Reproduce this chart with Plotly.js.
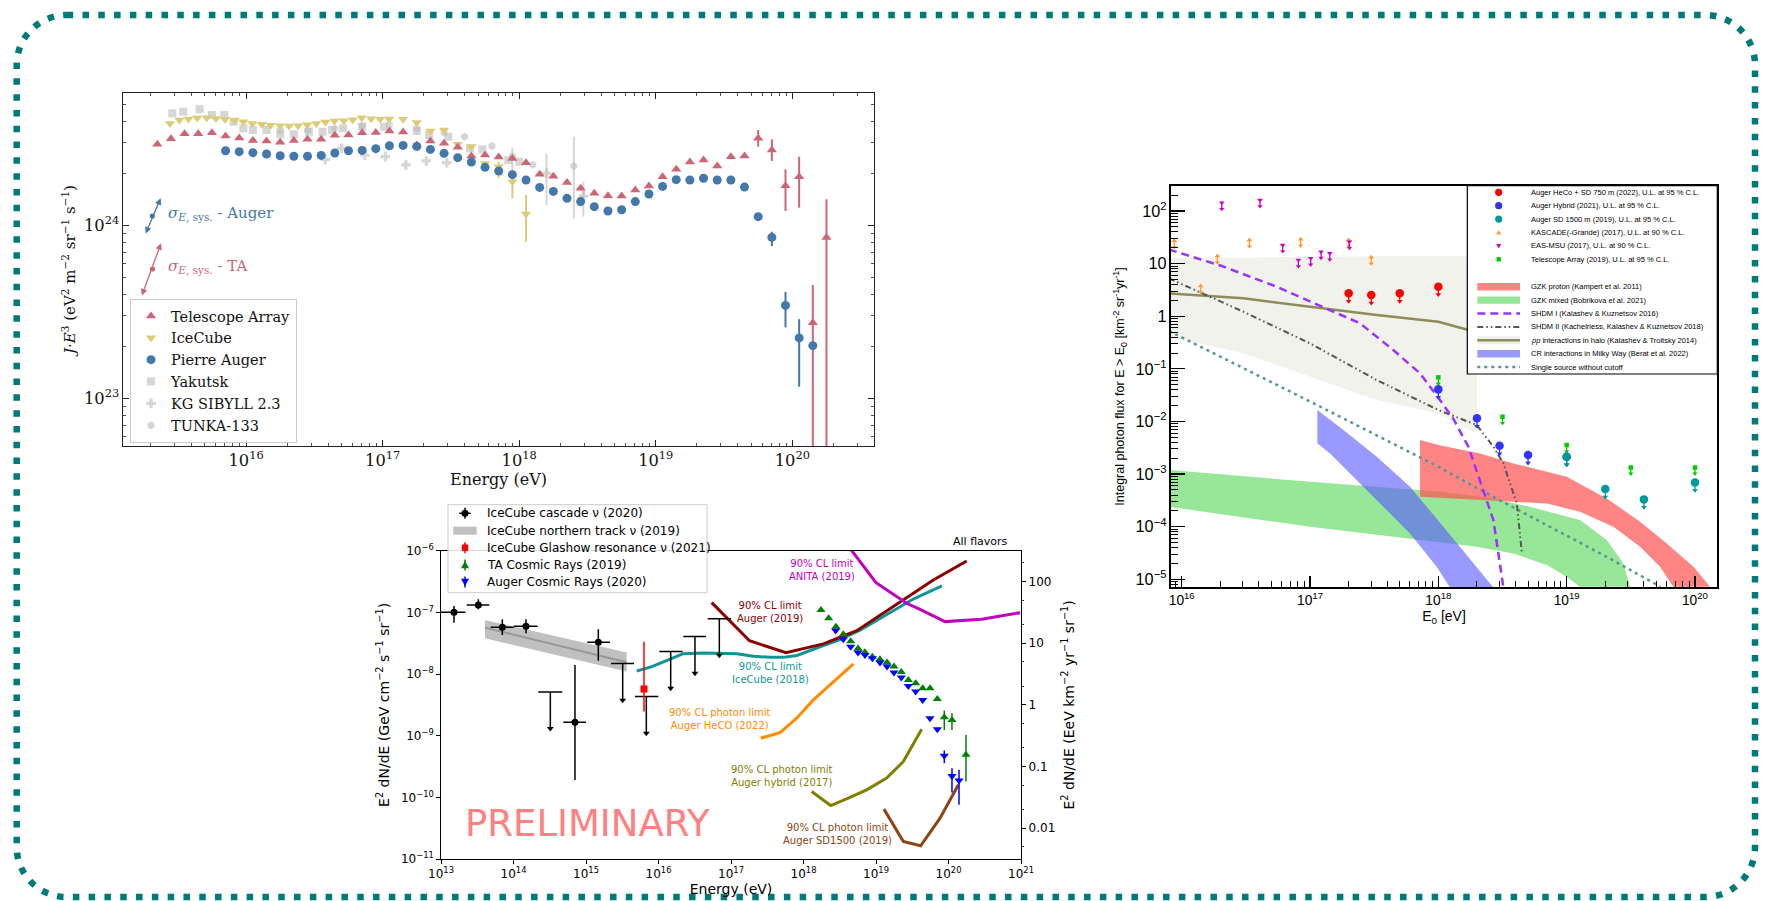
<!DOCTYPE html>
<html>
<head>
<meta charset="utf-8">
<script src="https://cdn.plot.ly/plotly-3.0.1.min.js"></script>
<style>
html,body{margin:0;padding:0;background:#ffffff;}
#fig{width:1768px;height:901px;}
</style>
</head>
<body>
<div id="fig"></div>
<script>
// ================= Panel A : cosmic-ray spectrum (log10 E [eV], log10 J*E^3) =================
const taLogE = [15.35,15.45,15.55,15.65,15.75,15.85,15.95,16.05,16.15,16.25,16.35,16.45,16.55,16.65,16.75,16.85,16.95,17.05,17.15,17.25,17.35,17.45,17.55,17.65,17.75,17.85,17.95,18.05,18.15,18.25,18.35,18.45,18.55,18.65,18.75,18.85,18.95,19.05,19.15,19.25,19.35,19.45,19.55,19.65,19.75,19.85,19.95,20.05,20.15,20.25];
const taLogJ = [24.468,24.501,24.530,24.530,24.535,24.516,24.505,24.491,24.487,24.480,24.491,24.497,24.497,24.520,24.522,24.535,24.537,24.545,24.539,24.464,24.487,24.474,24.451,24.401,24.406,24.395,24.387,24.362,24.295,24.283,24.248,24.214,24.185,24.171,24.169,24.204,24.227,24.281,24.324,24.366,24.377,24.343,24.397,24.401,24.503,24.435,24.229,24.281,23.437,23.930];
const taErrLogE = [19.75,19.85,19.95,20.05,20.15,20.25];
const taErrLogHi = [24.551,24.497,24.324,24.397,23.655,24.150];
const taErrLogLo = [24.455,24.372,24.083,24.102,22.5,22.5];

const icLogE = [15.443,15.512,15.578,15.643,15.712,15.780,15.846,15.915,15.980,16.046,16.115,16.181,16.249,16.315,16.381,16.447,16.515,16.581,16.647,16.716,16.781,16.847,16.916,16.982,17.048,17.15,17.25,17.35,17.45,17.55,17.65,17.75,17.85,17.95,18.05];
const icLogJ = [24.589,24.609,24.614,24.620,24.622,24.618,24.613,24.607,24.599,24.589,24.584,24.578,24.576,24.574,24.576,24.582,24.589,24.597,24.603,24.605,24.611,24.622,24.616,24.613,24.614,24.613,24.595,24.545,24.551,24.468,24.455,24.358,24.339,24.252,24.065];
const icErrLogE = [17.85,17.95,18.05];
const icErrLogHi = [24.368,24.320,24.175];
const icErrLogLo = [24.272,24.156,23.905];

const augLogE = [15.85,15.95,16.05,16.15,16.25,16.35,16.45,16.55,16.65,16.75,16.85,16.95,17.05,17.15,17.25,17.35,17.45,17.55,17.65,17.75,17.85,17.95,18.05,18.15,18.25,18.35,18.45,18.55,18.65,18.75,18.85,18.95,19.05,19.15,19.25,19.35,19.45,19.55,19.65,19.75,19.85,19.95,20.05,20.15];
const augLogJ = [24.431,24.426,24.420,24.412,24.402,24.399,24.399,24.404,24.418,24.431,24.433,24.443,24.460,24.462,24.456,24.439,24.416,24.391,24.366,24.335,24.314,24.293,24.262,24.219,24.196,24.156,24.137,24.108,24.083,24.090,24.137,24.181,24.225,24.264,24.262,24.272,24.262,24.262,24.221,24.050,23.930,23.537,23.349,23.304];
const augErrLogE = [19.85,19.95,20.05];
const augErrLogHi = [23.963,23.614,23.457];
const augErrLogLo = [23.880,23.410,23.067];

const yakLogE = [15.46,15.54,15.66,15.75,15.84,15.91,15.98,16.05,16.15,16.25,16.35,16.46,16.56,16.63,16.71,16.85,17.01,17.25,17.34,17.48,17.64,17.73,17.92,18.0];
const yakLogJ = [24.647,24.657,24.672,24.638,24.638,24.599,24.561,24.551,24.551,24.526,24.526,24.541,24.541,24.551,24.561,24.570,24.570,24.545,24.522,24.512,24.445,24.439,24.377,24.368];

const kgLogE = [16.58,16.70,16.87,17.02,17.17,17.32,17.47,18.20,18.47];
const kgLogJ = [24.381,24.445,24.406,24.397,24.349,24.372,24.362,24.300,24.169];
const kgErrLogE = [18.20,18.47];
const kgErrLogHi = [24.416,24.252];
const kgErrLogLo = [24.117,24.050];

const tunkaLogE = [16.25,16.45,16.65,16.85,17.05,17.25,17.45,17.60,17.80,17.95,18.10,18.40];
const tunkaLogJ = [24.550,24.550,24.560,24.575,24.580,24.560,24.535,24.512,24.458,24.400,24.350,24.343];
const tunkaErrLogE = [17.95,18.40];
const tunkaErrLogHi = [24.450,24.512];
const tunkaErrLogLo = [24.300,24.040];

// ================= Panel B : neutrino / photon / CR fluxes (log10 E [eV], log10 E^2 dN/dE) =================
const cascLogE   = [13.179,13.515,13.846,14.172,14.848,15.170];
const cascLogElo = [13.000,13.354,13.685,14.007,14.687,15.018];
const cascLogEhi = [13.336,13.666,14.007,14.333,15.000,15.331];
const cascLogF   = [-6.998,-6.880,-7.242,-7.226,-8.781,-7.485];
const cascLogFlo = [-7.167,-6.950,-7.366,-7.338,-9.717,-7.783];
const cascLogFhi = [-6.896,-6.788,-7.112,-7.112,-7.853,-7.274];
const cascUlLogE   = [14.508,15.506,15.832,16.168,16.503,16.839];
const cascUlLogElo = [14.342,15.345,15.676,16.011,16.342,16.679];
const cascUlLogEhi = [14.673,15.662,15.997,16.333,16.655,17.000];
const cascUlLogF   = [-8.290,-7.831,-8.366,-7.636,-7.393,-7.102];

const trackLogE   = [13.607,15.561];
const trackLogMid = [-7.248,-7.809];
const trackLogHi  = [-7.123,-7.653];
const trackLogLo  = [-7.420,-7.961];

const glashowLogE = [15.80];
const glashowLogF = [-8.241];
const glashowLogHi = [-7.475];
const glashowLogLo = [-8.609];

const taCrLogE = [18.241,18.347,18.448,18.549,18.651,18.752,18.848,18.950,19.055,19.152,19.248,19.349,19.446,19.547,19.644,19.745,19.846,19.942,20.048,20.241];
const taCrLogF = [-6.961,-7.096,-7.232,-7.355,-7.469,-7.588,-7.647,-7.718,-7.760,-7.815,-7.880,-7.966,-8.096,-8.149,-8.230,-8.230,-8.404,-8.701,-8.744,-9.311];
const taCrErrLogE = [19.942,20.048,20.241];
const taCrErrLogHi = [-8.593,-8.636,-8.987];
const taCrErrLogLo = [-8.906,-8.906,-9.744];

const augCrLogE = [18.444,18.549,18.651,18.752,18.848,18.950,19.055,19.152,19.248,19.349,19.446,19.547,19.644,19.745,19.846,19.942,20.048,20.145];
const augCrLogF = [-7.296,-7.436,-7.556,-7.653,-7.691,-7.744,-7.815,-7.880,-7.977,-8.058,-8.193,-8.285,-8.420,-8.717,-8.895,-9.327,-9.652,-9.728];
const augCrErrLogE = [19.942,20.048,20.145];
const augCrErrLogHi = [-9.241,-9.527,-9.554];
const augCrErrLogLo = [-9.446,-9.922,-10.122];

const ic18LogE = [15.70,15.91,16.16,16.34,16.62,16.85,17.08,17.31,17.54,17.72,17.91,18.18,18.50,18.78,19.15,19.52,19.91];
const ic18LogF = [-7.95,-7.88,-7.76,-7.67,-7.66,-7.66,-7.67,-7.71,-7.73,-7.73,-7.70,-7.58,-7.44,-7.29,-7.04,-6.78,-6.57];
const aug19LogE = [16.734,17.255,17.759,18.274,18.734,19.239,19.791,20.251];
const aug19LogF = [-6.843,-7.461,-7.653,-7.512,-7.297,-6.908,-6.475,-6.167];
const anitaLogE = [18.55,19.00,19.423,19.607,19.952,20.458,20.986];
const anitaLogF = [-5.82,-6.518,-6.853,-6.950,-7.150,-7.112,-7.005];
const hecoLogE = [17.410,17.676,17.906,18.136,18.366,18.688];
const hecoLogF = [-9.041,-8.950,-8.717,-8.420,-8.177,-7.837];
const hybLogE = [18.113,18.375,18.618,18.871,19.147,19.377,19.630];
const hybLogF = [-9.906,-10.133,-10.013,-9.878,-9.689,-9.420,-8.895];
const sdLogE = [19.110,19.377,19.616,19.883,20.136];
const sdLogF = [-10.191,-10.716,-10.786,-10.337,-9.797];

const rightAxisTicks = [0.01,0.1,1,10,100];
const rightAxisLabels = ['0.01','0.1','1','10','100'];

// ================= Panel C : integral photon flux (log10 E0 [eV], log10 flux) =================
const heCoLogE = [17.301,17.477,17.699,18.000];
const heCoLogF = [0.435,0.403,0.435,0.561];
const hybPhLogE = [18.000,18.301,18.477,18.699,19.000];
const hybPhLogF = [-1.390,-1.941,-2.462,-2.639,-2.671];
const sd1500LogE = [19.000,19.301,19.602,20.000];
const sd1500LogF = [-2.671,-3.285,-3.481,-3.158];
const kascLogE = [15.942,16.148,16.277,16.527,16.927,17.301,17.477];
const kascLogF = [1.435,0.574,1.144,1.449,1.462,1.449,1.120];
const msuLogE = [16.312,16.610,16.787,16.909,17.005,17.086,17.154,17.307];
const msuLogF = [2.158,2.209,1.354,1.068,1.100,1.227,1.196,1.416];
const taPhLogE = [18.0,18.5,19.0,19.5,20.0];
const taPhLogF = [-1.162,-1.911,-2.449,-2.873,-2.873];

const gzkpUpLogE = [17.857,18.000,18.325,18.585,19.000,19.312,19.572,19.780,19.988,20.118];
const gzkpUpLogF = [-2.354,-2.449,-2.607,-2.797,-3.051,-3.462,-3.906,-4.318,-4.762,-5.143];
const gzkpLoLogE = [17.857,18.000,18.325,18.585,18.845,19.104,19.364,19.572,19.728,19.832];
const gzkpLoLogF = [-3.432,-3.440,-3.494,-3.527,-3.557,-3.717,-4.002,-4.382,-4.762,-5.143];

const gzkmUpLogE = [15.90,17.00,18.00,18.40,18.714,19.104,19.312,19.442,19.494];
const gzkmUpLogF = [-2.92,-3.146,-3.33,-3.45,-3.622,-3.875,-4.255,-4.698,-5.143];
const gzkmLoLogE = [15.90,17.00,18.30,18.585,18.845,19.000,19.104];
const gzkmLoLogF = [-3.622,-4.002,-4.382,-4.509,-4.730,-4.952,-5.143];

const crUpLogE = [17.057,17.260,17.520,17.779,18.039,18.234,18.429];
const crUpLogF = [-1.783,-2.163,-2.671,-3.241,-4.002,-4.572,-5.155];
const crLoLogE = [17.057,17.156,17.520,17.779,17.987,18.091];
const crLoLogF = [-2.416,-2.607,-3.494,-4.128,-4.762,-5.155];

const ppUpLogE = [15.90,16.48,17.00,17.52,18.00,18.299];
const ppUpLogF = [1.10,1.12,1.13,1.14,1.14,1.14];
const ppLoLogE = [15.90,16.48,17.00,17.52,18.00,18.247,18.299];
const ppLoLogF = [-0.390,-0.705,-1.150,-1.593,-1.846,-2.163,-2.226];
const ppLineLogE = [15.90,16.48,17.00,17.52,18.00,18.234];
const ppLineLogF = [0.435,0.340,0.181,0.023,-0.104,-0.262];

const shdm1LogE = [15.90,16.312,16.740,17.130,17.390,17.649,17.857,18.000,18.117,18.234,18.325,18.429,18.506];
const shdm1LogF = [1.27,0.954,0.561,0.150,-0.135,-0.643,-1.086,-1.55,-1.95,-2.48,-3.114,-3.875,-5.143];
const shdm2LogE = [15.90,16.48,17.00,17.52,18.00,18.299,18.429,18.507,18.611,18.637,18.650];
const shdm2LogF = [0.72,0.086,-0.516,-1.213,-1.783,-2.068,-2.48,-2.797,-3.557,-4.255,-4.477];
const ssLogE = [15.90,17.00,18.00,18.325,18.845,19.31,19.73];
const ssLogF = [-0.28,-1.62,-2.86,-3.30,-3.97,-4.57,-5.14];

// ================= helpers =================
const P = v => Math.pow(10, v);
const lin = a => a.map(P);
const W = 1768, H = 901;
const fx = x => x / W;
const fy = y => 1 - y / H;

function errFor(logX, logY, eX, eHi, eLo) {
  const plus = [], minus = [];
  logX.forEach((x, i) => {
    const k = eX.findIndex(v => Math.abs(v - x) < 1e-6);
    if (k < 0) { plus.push(0); minus.push(0); }
    else { plus.push(P(eHi[k]) - P(logY[i])); minus.push(P(logY[i]) - P(eLo[k])); }
  });
  return {plus, minus};
}
function errY(logX, logY, eX, eHi, eLo, color, th) {
  const e = errFor(logX, logY, eX, eHi, eLo);
  return {type:'data', symmetric:false, array:e.plus, arrayminus:e.minus, color:color, thickness:th, width:0};
}
function band(upE, upF, loE, loF) {
  return {x: lin(upE.concat(loE.slice().reverse())), y: lin(upF.concat(loF.slice().reverse()))};
}

const cTA = '#CC6677', cIC = '#DDCC77', cAug = '#4477AA', cGrey = 'rgba(187,187,187,0.6)';
const serif = 'DejaVu Serif', sans = 'DejaVu Sans', helv = 'Liberation Sans';

const traces = [];

// ---------- Panel A traces ----------
function seriesA(name, logE, logJ, err, symbol, size, color, rank) {
  return {type:'scatter', mode:'markers', name:name, x:lin(logE), y:lin(logJ), xaxis:'x', yaxis:'y',
    legend:'legend', legendrank:rank, marker:{symbol:symbol, size:size, color:color, line:{width:0}},
    error_y: err, cliponaxis:true, hoverinfo:'skip'};
}
traces.push(seriesA('Yakutsk', yakLogE, yakLogJ, undefined, 'square', 8, cGrey, 4));
traces.push(seriesA('KG SIBYLL 2.3', kgLogE, kgLogJ, errY(kgLogE, kgLogJ, kgErrLogE, kgErrLogHi, kgErrLogLo, cGrey, 2), 'cross', 8, cGrey, 5));
traces.push(seriesA('TUNKA-133', tunkaLogE, tunkaLogJ, errY(tunkaLogE, tunkaLogJ, tunkaErrLogE, tunkaErrLogHi, tunkaErrLogLo, cGrey, 2), 'hexagon', 8, cGrey, 6));
traces.push(seriesA('IceCube', icLogE, icLogJ, errY(icLogE, icLogJ, icErrLogE, icErrLogHi, icErrLogLo, cIC, 2), 'triangle-down', 9, cIC, 2));
traces.push(seriesA('Telescope Array', taLogE, taLogJ, errY(taLogE, taLogJ, taErrLogE, taErrLogHi, taErrLogLo, cTA, 2), 'triangle-up', 9, cTA, 1));
traces.push(seriesA('Pierre Auger', augLogE, augLogJ, errY(augLogE, augLogJ, augErrLogE, augErrLogHi, augErrLogLo, cAug, 2), 'circle', 9, cAug, 3));

// ---------- Panel B traces ----------
const cTrack = 'rgba(150,150,150,0.6)';
const tb = band(trackLogE, trackLogHi, trackLogE, trackLogLo);
traces.push({type:'scatter', mode:'lines', name:'IceCube northern track \u03bd (2019)', x:tb.x, y:tb.y, xaxis:'x2', yaxis:'y2', showlegend:false,
  fill:'toself', fillcolor:cTrack, line:{width:0, color:cTrack}, hoverinfo:'skip'});
traces.push({type:'scatter', mode:'lines', x:lin(trackLogE), y:lin(trackLogMid), xaxis:'x2', yaxis:'y2', showlegend:false,
  line:{width:2, color:'rgba(140,140,140,0.8)'}, hoverinfo:'skip'});

function limitLine(logE, logF, color) {
  return {type:'scatter', mode:'lines', x:lin(logE), y:lin(logF), xaxis:'x2', yaxis:'y2', showlegend:false,
    line:{color:color, width:3}, hoverinfo:'skip'};
}
traces.push(limitLine(ic18LogE, ic18LogF, '#0e9696'));
traces.push(limitLine(aug19LogE, aug19LogF, '#8b0000'));
traces.push(limitLine(anitaLogE, anitaLogF, '#bf00bf'));
traces.push(limitLine(hecoLogE, hecoLogF, '#ff8c00'));
traces.push(limitLine(hybLogE, hybLogF, '#808000'));
traces.push(limitLine(sdLogE, sdLogF, '#8b4513'));

traces.push({type:'scatter', mode:'markers', name:'IceCube cascade \u03bd (2020)', x:lin(cascLogE), y:lin(cascLogF), xaxis:'x2', yaxis:'y2', showlegend:false,
  marker:{symbol:'circle', size:7, color:'black'},
  error_x:{type:'data', symmetric:false, array:cascLogEhi.map((v,i)=>P(v)-P(cascLogE[i])), arrayminus:cascLogElo.map((v,i)=>P(cascLogE[i])-P(v)), color:'black', thickness:1.5, width:0},
  error_y:{type:'data', symmetric:false, array:cascLogFhi.map((v,i)=>P(v)-P(cascLogF[i])), arrayminus:cascLogFlo.map((v,i)=>P(cascLogF[i])-P(v)), color:'black', thickness:1.5, width:0},
  hoverinfo:'skip'});
const ulDrop = 0.643;
traces.push({type:'scatter', mode:'markers', x:lin(cascUlLogE), y:lin(cascUlLogF), xaxis:'x2', yaxis:'y2', showlegend:false,
  marker:{size:2, color:'rgba(0,0,0,0)'},
  error_x:{type:'data', symmetric:false, array:cascUlLogEhi.map((v,i)=>P(v)-P(cascUlLogE[i])), arrayminus:cascUlLogElo.map((v,i)=>P(cascUlLogE[i])-P(v)), color:'black', thickness:1.5, width:0},
  error_y:{type:'data', symmetric:false, array:cascUlLogF.map(()=>0), arrayminus:cascUlLogF.map(v=>P(v)-P(v-ulDrop+0.05)), color:'black', thickness:1.5, width:0},
  hoverinfo:'skip'});
traces.push({type:'scatter', mode:'markers', x:lin(cascUlLogE), y:cascUlLogF.map(v=>P(v-ulDrop+0.05)), xaxis:'x2', yaxis:'y2', showlegend:false,
  marker:{symbol:'triangle-down', size:6, color:'black'}, hoverinfo:'skip'});

traces.push({type:'scatter', mode:'markers', name:'IceCube Glashow resonance \u03bd (2021)', x:lin(glashowLogE), y:lin(glashowLogF), xaxis:'x2', yaxis:'y2', showlegend:false,
  marker:{symbol:'square', size:7, color:'#ff0000'},
  error_y:{type:'data', symmetric:false, array:[P(glashowLogHi[0])-P(glashowLogF[0])], arrayminus:[P(glashowLogF[0])-P(glashowLogLo[0])], color:'#ff0000', thickness:1.5, width:0},
  hoverinfo:'skip'});
traces.push({type:'scatter', mode:'markers', name:'TA Cosmic Rays (2019)', x:lin(taCrLogE), y:lin(taCrLogF), xaxis:'x2', yaxis:'y2', showlegend:false,
  marker:{symbol:'triangle-up', size:8, color:'#008000'},
  error_y:errY(taCrLogE, taCrLogF, taCrErrLogE, taCrErrLogHi, taCrErrLogLo, '#008000', 1.5), hoverinfo:'skip'});
traces.push({type:'scatter', mode:'markers', name:'Auger Cosmic Rays (2020)', x:lin(augCrLogE), y:lin(augCrLogF), xaxis:'x2', yaxis:'y2', showlegend:false,
  marker:{symbol:'triangle-down', size:8, color:'#0000ff'},
  error_y:errY(augCrLogE, augCrLogF, augCrErrLogE, augCrErrLogHi, augCrErrLogLo, '#0000ff', 1.5), hoverinfo:'skip'});
traces.push({type:'scatter', mode:'markers', x:[], y:[], xaxis:'x2', yaxis:'y4', showlegend:false, hoverinfo:'skip'});

// ---------- Panel C traces ----------
function bandC(upE, upF, loE, loF, color) {
  const b = band(upE, upF, loE, loF);
  return {type:'scatter', mode:'lines', x:b.x, y:b.y, xaxis:'x3', yaxis:'y3', showlegend:false,
    fill:'toself', fillcolor:color, line:{width:0, color:color}, hoverinfo:'skip'};
}
const cGzkP = 'rgba(255,80,80,0.7)', cGzkM = '#98e698', cCr = 'rgba(90,90,255,0.62)', cPpBand = '#f2f2ec';
traces.push(bandC(ppUpLogE, ppUpLogF, ppLoLogE, ppLoLogF, cPpBand));
traces.push(bandC(gzkmUpLogE, gzkmUpLogF, gzkmLoLogE, gzkmLoLogF, cGzkM));
traces.push(bandC(gzkpUpLogE, gzkpUpLogF, gzkpLoLogE, gzkpLoLogF, cGzkP));
traces.push(bandC(crUpLogE, crUpLogF, crLoLogE, crLoLogF, cCr));
function lineC(logE, logF, color, width, dash) {
  return {type:'scatter', mode:'lines', x:lin(logE), y:lin(logF), xaxis:'x3', yaxis:'y3', showlegend:false,
    line:{color:color, width:width, dash:dash}, hoverinfo:'skip'};
}
traces.push(lineC(ppLineLogE, ppLineLogF, '#8c8c5c', 2.5, 'solid'));
traces.push(lineC(ssLogE, ssLogF, '#5b9494', 2.5, '3px,4px'));
traces.push(lineC(shdm2LogE, shdm2LogF, '#555555', 2, '6px,3px,1.5px,3px,1.5px,3px'));
traces.push(lineC(shdm1LogE, shdm1LogF, '#9933ff', 2.5, '8px,5px'));

function ulC(logE, logF, color, symbol, size, drop, head) {
  const tip = logF.map(v => P(v - drop));
  return [
    {type:'scatter', mode:'markers', x:lin(logE), y:lin(logF), xaxis:'x3', yaxis:'y3', showlegend:false,
      marker:{symbol:symbol, size:size, color:color},
      error_y:{type:'data', symmetric:false, array:logF.map(()=>0), arrayminus:logF.map((v,i)=>P(v)-tip[i]), color:color, thickness:1.3, width:0},
      hoverinfo:'skip'},
    {type:'scatter', mode:'markers', x:lin(logE), y:tip, xaxis:'x3', yaxis:'y3', showlegend:false,
      marker:{symbol:'triangle-down', size:head, color:color}, hoverinfo:'skip'}
  ];
}
traces.push(...ulC(kascLogE, kascLogF, '#ff9933', 'triangle-up', 5, 0.12, 4.5));
traces.push(...ulC(msuLogE, msuLogF, '#cc00cc', 'triangle-down', 5, 0.12, 4.5));
traces.push(...ulC(taPhLogE, taPhLogF, '#00cc00', 'square', 4.5, 0.12, 4.5));
traces.push(...ulC(hybPhLogE, hybPhLogF, '#3333ff', 'circle', 8.5, 0.15, 5));
traces.push(...ulC(sd1500LogE, sd1500LogF, '#009999', 'circle', 8.5, 0.15, 5));
traces.push(...ulC(heCoLogE, heCoLogF, '#ff0000', 'circle', 8.5, 0.15, 5));

// ================= decorations =================
const shapes = [];
const annotations = [];

// page border (rounded dashed frame)
(function(){
  const xl = fx(16.7), xr = fx(1755), yt = fy(15), yb = fy(897);
  const rx = 50 / W, ry = 50 / H, k = 0.5523;
  const p = [
    `M${xl+rx},${yt}`, `L${xr-rx},${yt}`,
    `C${xr-rx+k*rx},${yt} ${xr},${yt-ry+k*ry} ${xr},${yt-ry}`,
    `L${xr},${yb+ry}`,
    `C${xr},${yb+ry-k*ry} ${xr-rx+k*rx},${yb} ${xr-rx},${yb}`,
    `L${xl+rx},${yb}`,
    `C${xl+rx-k*rx},${yb} ${xl},${yb+ry-k*ry} ${xl},${yb+ry}`,
    `L${xl},${yt-ry}`,
    `C${xl},${yt-ry+k*ry} ${xl+rx-k*rx},${yt} ${xl+rx},${yt}`, 'Z'
  ].join(' ');
  shapes.push({type:'path', xref:'paper', yref:'paper', path:p, line:{color:'#007a78', width:6.5, dash:'6.5px,9.3px'}, layer:'above'});
})();

// panel A systematic-energy arrows
function sysArrow(headX, headY, tailX, tailY, dotX, dotY, color) {
  annotations.push({xref:'paper', yref:'paper', x:fx(headX), y:fy(headY), ax:tailX-headX, ay:tailY-headY, axref:'pixel', ayref:'pixel',
    text:'', showarrow:true, arrowside:'end+start', arrowhead:2, arrowsize:1, arrowwidth:1.3, arrowcolor:color, standoff:0, startstandoff:0});
  shapes.push({type:'circle', xref:'paper', yref:'paper', xsizemode:'pixel', ysizemode:'pixel', xanchor:fx(dotX), yanchor:fy(dotY),
    x0:-2.6, x1:2.6, y0:-2.6, y1:2.6, fillcolor:color, line:{width:0}});
}
sysArrow(160.7, 198.3, 145, 235, 152.3, 216, cAug);
sysArrow(161, 243.3, 141.3, 297, 152.5, 269, cTA);
annotations.push({xref:'paper', yref:'paper', x:fx(166), y:fy(214), xanchor:'left', yanchor:'middle', showarrow:false,
  text:'<i>\u03c3</i><sub><i>E</i>, sys.</sub> - Auger', font:{family:serif, size:15, color:cAug}});
annotations.push({xref:'paper', yref:'paper', x:fx(166), y:fy(266.7), xanchor:'left', yanchor:'middle', showarrow:false,
  text:'<i>\u03c3</i><sub><i>E</i>, sys.</sub> - TA', font:{family:serif, size:15, color:cTA}});

// panel B labels (positions in log10 axis units)
function labB(x, y, text, color, size) {
  annotations.push({xref:'x2', yref:'y2', x:x, y:y, text:text, showarrow:false, xanchor:'center', yanchor:'middle',
    font:{family:sans, size:size||10, color:color}, align:'center'});
}
labB(17.538, -6.989, '90% CL limit<br>Auger (2019)', '#8b0000');
labB(17.538, -7.987, '90% CL limit<br>IceCube (2018)', '#0e9696');
labB(16.848, -8.731, '90% CL photon limit<br>Auger HeCO (2022)', '#ff8c00');
labB(17.699, -9.648, '90% CL photon limit<br>Auger hybrid (2017)', '#808000');
labB(18.469, -10.588, '90% CL photon limit<br>Auger SD1500 (2019)', '#8b4513');
labB(18.251, -6.313, '90% CL limit<br>ANITA (2019)', '#bf00bf');
labB(15.021, -10.43, 'PRELIMINARY', '#ff8080', 37);
annotations.push({xref:'paper', yref:'paper', x:fx(1010), y:fy(541), xanchor:'right', yanchor:'middle', showarrow:false,
  text:'All flavors', font:{family:sans, size:11, color:'#000'}});

// shared helpers for drawn legends
function legSym(kind, cx, cy, color, opts) {
  const base = {xref:'paper', yref:'paper', layer:'above'};
  const px = Object.assign({}, base, {xsizemode:'pixel', ysizemode:'pixel', xanchor:fx(cx), yanchor:fy(cy)});
  const s = (opts && opts.s) || 3.5;
  if (opts && opts.vbar) shapes.push(Object.assign({}, px, {type:'line', x0:0, x1:0, y0:-opts.vbar, y1:opts.vbar, line:{color:color, width:1.5}}));
  if (opts && opts.hbar) shapes.push(Object.assign({}, px, {type:'line', x0:-opts.hbar, x1:opts.hbar, y0:0, y1:0, line:{color:color, width:1.5}}));
  if (kind === 'circle') shapes.push(Object.assign({}, px, {type:'circle', x0:-s, x1:s, y0:-s, y1:s, fillcolor:color, line:{width:0}}));
  if (kind === 'tri-up') shapes.push(Object.assign({}, px, {type:'path', path:`M${-s},${-0.8*s} L${s},${-0.8*s} L0,${s} Z`, fillcolor:color, line:{width:0}}));
  if (kind === 'tri-down') shapes.push(Object.assign({}, px, {type:'path', path:`M${-s},${0.8*s} L${s},${0.8*s} L0,${-s} Z`, fillcolor:color, line:{width:0}}));
  if (kind === 'square') shapes.push(Object.assign({}, px, {type:'rect', x0:-s, x1:s, y0:-s, y1:s, fillcolor:color, line:{width:0}}));
}

// panel B legend
const neutrinoLegend = [
  {label:'IceCube cascade \u03bd (2020)', kind:'circle', color:'#000000', opts:{s:3.5, vbar:5.5, hbar:5.7}},
  {label:'IceCube northern track \u03bd (2019)', kind:'band', color:cTrack},
  {label:'IceCube Glashow resonance \u03bd (2021)', kind:'square', color:'#ff0000', opts:{s:3.2, vbar:5.5}},
  {label:'TA Cosmic Rays (2019)', kind:'tri-up', color:'#008000', opts:{s:4, vbar:5.5}},
  {label:'Auger Cosmic Rays (2020)', kind:'tri-down', color:'#0000ff', opts:{s:4, vbar:5.5}}
];
const rowYB = [513.3,530.7,547.7,565.0,582.0];
shapes.push({type:'rect', xref:'paper', yref:'paper', x0:fx(448), x1:fx(707), y0:fy(592.7), y1:fy(504.7),
  fillcolor:'rgba(255,255,255,0.85)', line:{color:'#cccccc', width:1}, layer:'above'});
neutrinoLegend.forEach((e, i) => {
  const y = rowYB[i];
  if (e.kind === 'band') shapes.push({type:'rect', xref:'paper', yref:'paper', x0:fx(453.3), x1:fx(476.7), y0:fy(y+4), y1:fy(y-4), fillcolor:e.color, line:{width:0}, layer:'above'});
  else legSym(e.kind, 465, y, e.color, e.opts);
  annotations.push({xref:'paper', yref:'paper', x:fx(485), y:fy(y), xanchor:'left', yanchor:'middle', showarrow:false,
    text:e.label, font:{family:sans, size:12, color:'#000'}});
});

// panel C legend
const photonLegend = [
  {label:'Auger HeCo + SD 750 m (2022), U.L. at 95 % C.L.', kind:'circle', color:'#ff0000', opts:{s:3.6}},
  {label:'Auger Hybrid (2021), U.L. at 95 % C.L.', kind:'circle', color:'#3333ff', opts:{s:3.6}},
  {label:'Auger SD 1500 m (2019), U.L. at 95 % C.L.', kind:'circle', color:'#009999', opts:{s:3.6}},
  {label:'KASCADE(-Grande) (2017), U.L. at 90 % C.L.', kind:'tri-up', color:'#ff9933', opts:{s:2.5}},
  {label:'EAS-MSU (2017), U.L. at 90 % C.L.', kind:'tri-down', color:'#cc00cc', opts:{s:2.5}},
  {label:'Telescope Array (2019), U.L. at 95 % C.L.', kind:'square', color:'#00cc00', opts:{s:2.2}},
  {label:'GZK proton (Kampert et al. 2011)', kind:'band', color:cGzkP},
  {label:'GZK mixed (Bobrikova et al. 2021)', kind:'band', color:cGzkM},
  {label:'SHDM I (Kalashev &amp; Kuznetsov 2016)', kind:'line', color:'#9933ff', dash:'8px,5px', width:2.5},
  {label:'SHDM II (Kachelriess, Kalashev &amp; Kuznetsov 2018)', kind:'line', color:'#555555', dash:'6px,3px,1.5px,3px,1.5px,3px', width:2},
  {label:'<i>pp</i> interactions in halo (Kalashev &amp; Troitsky 2014)', kind:'ppline', color:'#8c8c5c', width:2.5},
  {label:'CR interactions in Milky Way (Berat et al. 2022)', kind:'band', color:cCr},
  {label:'Single source without cutoff', kind:'line', color:'#5b9494', dash:'3px,4px', width:2.5}
];
shapes.push({type:'rect', xref:'paper', yref:'paper', x0:fx(1467.3), x1:fx(1717.3), y0:fy(374), y1:fy(185.7),
  fillcolor:'#ffffff', line:{color:'#000', width:1.2}, layer:'above'});
const rowYC = [192.3,205.7,219.1,232.5,245.9,259.3,286.7,300.1,313.5,326.9,340.3,353.7,367.1];
photonLegend.forEach((e, i) => {
  const y = rowYC[i], base = {xref:'paper', yref:'paper', layer:'above'};
  if (e.kind === 'band') shapes.push(Object.assign({}, base, {type:'rect', x0:fx(1477.3), x1:fx(1520), y0:fy(y+3.7), y1:fy(y-3.7), fillcolor:e.color, line:{width:0}}));
  else if (e.kind === 'ppline') shapes.push(Object.assign({}, base, {type:'rect', x0:fx(1477.3), x1:fx(1520), y0:fy(y+4), y1:fy(y-4), fillcolor:cPpBand, line:{width:0}}));
  else if (e.kind !== 'line') legSym(e.kind, 1498.7, y, e.color, e.opts);
  if (e.kind === 'line' || e.kind === 'ppline') shapes.push(Object.assign({}, base, {type:'line', x0:fx(1477.3), x1:fx(1520), y0:fy(y), y1:fy(y), line:{color:e.color, width:e.width, dash:e.dash||'solid'}}));
  annotations.push({xref:'paper', yref:'paper', x:fx(1529.3), y:fy(y), xanchor:'left', yanchor:'middle', showarrow:false,
    text:e.label, font:{family:helv, size:7.5, color:'#000'}});
});

// ================= axes & layout =================
const axA = {showgrid:false, zeroline:false, showline:true, linecolor:'#222', linewidth:1.2, mirror:'allticks',
  ticks:'inside', ticklen:6, tickwidth:1, tickcolor:'#222', type:'log', dtick:1, exponentformat:'power',
  minor:{ticks:'inside', ticklen:3, tickwidth:0.8, tickcolor:'#222', showgrid:false},
  tickfont:{family:serif, size:13, color:'#111'}};
const axB = {showgrid:false, zeroline:false, showline:true, linecolor:'#000', linewidth:1.2,
  ticks:'outside', ticklen:4, tickwidth:1, tickcolor:'#000', type:'log', dtick:1, exponentformat:'power',
  tickfont:{family:sans, size:9.6, color:'#000'}};
const axC = {showgrid:false, zeroline:false, showline:true, linecolor:'#000', linewidth:1.5, mirror:true,
  ticks:'inside', tickwidth:1.2, tickcolor:'#000', type:'log', dtick:1, exponentformat:'power'};

const layout = {
  width:W, height:H, autosize:false, margin:{l:0, r:0, t:0, b:0, pad:0},
  paper_bgcolor:'#ffffff', plot_bgcolor:'rgba(0,0,0,0)', showlegend:true,
  font:{family:sans, color:'#000'},
  xaxis: Object.assign({}, axA, {domain:[fx(123), fx(874)], anchor:'y', range:[15.099, 20.598],
    title:{text:'Energy (eV)', font:{family:serif, size:16, color:'#111'}, standoff:2}}),
  yaxis: Object.assign({}, axA, {domain:[fy(446), fy(93)], anchor:'x', range:[22.724, 24.765],
    title:{text:'<i>J</i>\u00b7<i>E</i><sup>3</sup> (eV<sup>2</sup> m<sup>\u22122</sup> sr<sup>\u22121</sup> s<sup>\u22121</sup>)', font:{family:serif, size:15, color:'#111'}, standoff:4}}),
  xaxis2: Object.assign({}, axB, {domain:[fx(441), fx(1021)], anchor:'y2', range:[13, 21], mirror:true,
    title:{text:'Energy (eV)', font:{family:sans, size:14}, standoff:2}}),
  yaxis2: Object.assign({}, axB, {domain:[fy(859), fy(550.7)], anchor:'x2', range:[-11, -6],
    title:{text:'E<sup>2</sup> dN/dE (GeV cm<sup>\u22122</sup> s<sup>\u22121</sup> sr<sup>\u22121</sup>)', font:{family:sans, size:14}, standoff:8}}),
  yaxis4: Object.assign({}, axB, {overlaying:'y2', anchor:'x2', side:'right', range:[-2.5, 2.5],
    tickvals:rightAxisTicks, ticktext:rightAxisLabels, tickfont:{family:sans, size:12, color:'#000'},
    minor:{ticks:'outside', ticklen:2, tickwidth:0.8, tickcolor:'#000', showgrid:false},
    title:{text:'E<sup>2</sup> dN/dE (EeV km<sup>\u22122</sup> yr<sup>\u22121</sup> sr<sup>\u22121</sup>)', font:{family:sans, size:14}, standoff:9}}),
  xaxis3: Object.assign({}, axC, {domain:[fx(1170.7), fx(1717.3)], anchor:'y3', range:[15.914, 20.174], ticklen:11,
    minor:{ticks:'inside', ticklen:6, tickwidth:1, tickcolor:'#000', showgrid:false},
    tickfont:{family:helv, size:11, color:'#000'},
    title:{text:'E<sub>0</sub> [eV]', font:{family:helv, size:14}, standoff:2}}),
  yaxis3: Object.assign({}, axC, {domain:[fy(587.3), fy(185.7)], anchor:'x3', range:[-5.152, 2.481], ticklen:14,
    minor:{ticks:'inside', ticklen:7, tickwidth:1, tickcolor:'#000', showgrid:false},
    tickfont:{family:helv, size:13, color:'#000'},
    title:{text:'Integral photon flux for E &gt; E<sub>0</sub> [km<sup>-2</sup> sr<sup>-1</sup>yr<sup>-1</sup>]', font:{family:helv, size:12.5}, standoff:8}}),
  legend: {x:fx(130), y:fy(299), xanchor:'left', yanchor:'top', bgcolor:'rgba(255,255,255,0.85)', bordercolor:'#cccccc', borderwidth:1,
    font:{family:serif, size:14.5, color:'#111'}, traceorder:'normal', itemwidth:30},
  shapes: shapes,
  annotations: annotations
};

Plotly.newPlot('fig', traces, layout, {staticPlot:true, displayModeBar:false});
</script>
</body>
</html>
